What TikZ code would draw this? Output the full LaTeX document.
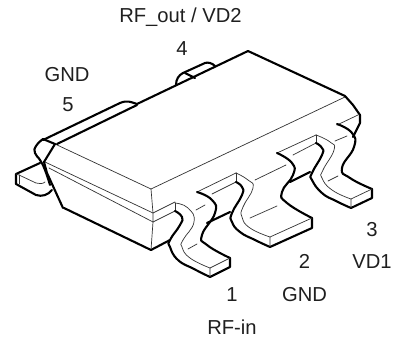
\documentclass[tikz,border=0pt]{standalone}
\usepackage{fontspec}
\setmainfont{Liberation Sans}
\tikzset{
  heavy/.style={line width=2.1pt,line join=round,line cap=round,black},
  hair/.style={line width=0.7pt,line join=round,line cap=round,black!80},
  lbl/.style={font=\fontsize{20.2}{22}\selectfont,inner sep=0pt,anchor=base,text=black!88},
  wavy/.style={smooth,tension=.85}
}
\begin{document}
\begin{tikzpicture}[x=1pt,y=-1pt]
\useasboundingbox (0,0) rectangle (394,337);
\fill[white] (0,0) rectangle (394,337);
% body top face and band lines
\draw[hair] (55,144) -- (151,189) -- (345,97);
\draw[hair] (151,189) -- (153,213) -- (153,222) -- (151,250);
\draw[hair] (45,162) -- (153,213) -- (175,202);
\draw[hair] (197,192) -- (236,173);
\draw[hair] (277,153) -- (316,135);
\draw[hair] (337,125) -- (358,115);
\draw[hair] (49,168) -- (153,222) -- (175,211);
\draw[hair] (212,194) -- (236,182);
\draw[hair] (293,155) -- (316,143);
% body outline
\draw[heavy] (43,140) -- (120,103) .. controls (127,100) and (131,102) .. (137,104) -- (248,51) -- (345,96) -- (353,105) -- (360,115) -- (360,123) -- (353,137);
\draw[heavy] (137,105) -- (57,144);
\draw[heavy] (64,208) -- (151,250) -- (170,240);
\draw[heavy] (207,223) -- (230,212);
\draw[heavy] (290,182) -- (310,172);
% pin 5
\draw[heavy] (43,139) -- (55,144) -- (44,162) -- (47,173) -- (63,208);
\draw[heavy] plot[wavy] coordinates {(43,139) (36,146) (35,153) (40,160) (45,170) (50,185)};
\draw[heavy] (40,163) -- (16,174) -- (16,184) -- (36,195) .. controls (42,197) and (48,195) .. (52,190);
\draw[hair] (16,174) -- (19,175) -- (36,183) .. controls (39,184) and (43,184) .. (45,182);
\draw[hair] (19,175) -- (19,184);
% pin 4
\draw[heavy] (176,85) .. controls (176,79) and (179,75) .. (183,73) -- (205,63) .. controls (208,62) and (212,63) .. (215,66);
\draw[heavy] (185,73) -- (195,78);
% pin 1
\draw[hair] (175,203) -- (175,211);
\draw[heavy] plot[wavy] coordinates {(175,211) (182,217) (180,225) (170,240) (170,247) (178,260) (194,269) (210,277)};
\draw[heavy] (210,277) -- (230,267) -- (230,258);
\draw[heavy] plot[wavy] coordinates {(230,258) (207,245) (202,235) (215,213) (212,200) (197,192)};
\draw[hair] plot[wavy] coordinates {(175,203) (188,208) (194,222) (183,240) (182,247) (190,258) (210,268)};
\draw[hair] (210,268) -- (210,277) (210,268) -- (230,258);
\draw[hair] (196,210) -- (205,205) (188,249) -- (197,244);
% pin 2
\draw[hair] (236,173) -- (236,182);
\draw[heavy] plot[wavy] coordinates {(236,182) (242,187) (242,195) (232,213) (232,222) (240,232) (255,240) (270,247)};
\draw[heavy] (270,247) -- (312,228) -- (312,218);
\draw[heavy] plot[wavy] coordinates {(312,218) (287,203) (282,192) (293,175) (292,163) (277,153)};
\draw[hair] plot[wavy] coordinates {(236,173) (248,180) (253,188) (243,207) (242,217) (250,228) (270,237)};
\draw[hair] (270,237) -- (270,247) (270,237) -- (312,218);
\draw[hair] (255,180) -- (286,165) (250,218) -- (277,206);
% pin 3
\draw[hair] (316,135) -- (316,143);
\draw[heavy] plot[wavy] coordinates {(316,143) (322,148) (322,155) (312,173) (312,180) (322,193) (336,201) (351,208)};
\draw[heavy] (351,208) -- (372,198) -- (372,189);
\draw[heavy] plot[wavy] coordinates {(372,189) (350,178) (342,168) (354,147) (352,133) (337,124)};
\draw[hair] plot[wavy] coordinates {(316,135) (330,142) (334,150) (323,170) (322,178) (332,190) (351,199)};
\draw[hair] (351,199) -- (351,208) (351,199) -- (372,189);
\draw[hair] (335,141) -- (347,136) (328,181) -- (338,176);
% labels
\node[lbl] (t1) at (180.5,23) {RF\_out / VD2};
\node[lbl] (t2) at (182,55.5) {4};
\node[lbl] (t3) at (67,82) {GND};
\node[lbl] (t4) at (68,112) {5};
\node[lbl] (t5) at (372,236) {3};
\node[lbl] (t6) at (372,268) {VD1};
\node[lbl] (t7) at (304.5,268) {2};
\node[lbl] (t8) at (304.5,301) {GND};
\node[lbl] (t9) at (232,301) {1};
\node[lbl] (t10) at (232,334) {RF-in};
\end{tikzpicture}
\end{document}
